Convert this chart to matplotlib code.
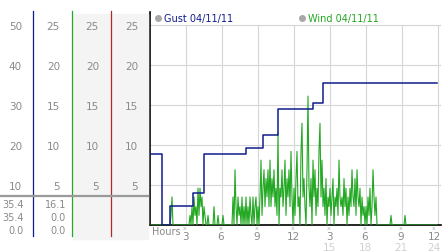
import numpy as np
import matplotlib
matplotlib.use("Agg")
import matplotlib.pyplot as plt
from matplotlib.patches import Rectangle
from matplotlib.lines import Line2D

W, H = 442, 253

# gust steps (hours, mph) - plotted on the 0-50 scale
gust_t = [0, 1.0, 1.7, 3.6, 4.5, 8.0, 9.4, 10.7, 13.6, 14.4, 23.9]
gust_v = [17.8, 0, 4.7, 7.9, 17.8, 19.2, 22.4, 28.9, 30.4, 35.4, 35.4]

# wind, one value every 5 minutes, 0h .. 23h55 (one row per hour)
wind_v = [
    0, 0, 0, 0, 0, 0, 0, 0, 0, 0, 0, 0,
    0, 0, 0, 0, 0, 0, 0, 0, 0, 1.2, 3.5, 0,
    0, 0, 0, 0, 0, 0, 0, 0, 0, 0, 0, 0,
    0, 0, 0, 0, 1.2, 0, 2.3, 0, 3.5, 1.2, 2.3, 0,
    4.6, 1.2, 4.6, 2.3, 3.5, 0, 2.3, 1.2, 0, 0, 1.2, 0,
    0, 0, 0, 0, 2.3, 0, 0, 0, 1.2, 0, 0, 0,
    0, 1.2, 0, 0, 0, 0, 0, 0, 0, 0, 0, 3.5,
    0, 6.9, 2.3, 0, 3.5, 1.2, 2.3, 0, 3.5, 0, 2.3, 0,
    3.5, 0, 2.3, 0, 3.5, 1.2, 0, 3.5, 0, 2.3, 3.5, 0,
    2.3, 0, 3.5, 8.1, 1.2, 4.6, 6.9, 2.3, 5.8, 3.5, 6.9, 2.3,
    8.1, 2.3, 5.8, 3.5, 6.9, 2.3, 4.6, 1.2, 11.5, 0, 4.6, 3.5,
    6.9, 2.3, 4.6, 8.1, 1.2, 5.8, 3.5, 6.9, 2.3, 9.2, 3.5, 0,
    4.6, 1.2, 5.8, 9.2, 2.3, 3.5, 0, 9.2, 12.7, 3.5, 5.8, 2.3,
    0, 6.9, 16.1, 4.6, 2.3, 5.8, 0, 8.1, 3.5, 6.9, 1.2, 4.6,
    2.3, 9.2, 12.7, 3.5, 8.1, 2.3, 4.6, 1.2, 5.8, 0, 3.5, 2.3,
    4.6, 1.2, 3.5, 5.8, 0, 3.5, 2.3, 4.6, 1.2, 8.1, 3.5, 2.3,
    3.5, 1.2, 5.8, 2.3, 4.6, 0, 3.5, 1.2, 4.6, 2.3, 6.9, 3.5,
    2.3, 5.8, 1.2, 6.9, 3.5, 2.3, 4.6, 0, 3.5, 1.2, 2.3, 0,
    2.3, 0, 3.5, 1.2, 4.6, 0, 2.3, 6.9, 3.5, 1.2, 3.5, 0,
    0, 0, 0, 0, 0, 0, 0, 0, 0, 0, 0, 0,
    0, 1.2, 0, 0, 0, 0, 0, 0, 0, 0, 0, 0,
    0, 0, 0, 1.2, 0, 0, 0, 0, 0, 0, 0, 0,
    0, 0, 0, 0, 0, 0, 0, 0, 0, 0, 0, 0,
    0, 0, 0, 0, 0, 0, 0, 0, 0, 0, 0, 0,
]
wind_t = np.arange(len(wind_v)) / 12.0

gust_ticks = [50, 40, 30, 20, 10]
wind_ticks = [25, 20, 15, 10, 5]
gust_stats = ["35.4", "35.4", "0.0"]
wind_stats = ["16.1", "0.0", "0.0"]
hour_ticks = [3, 6, 9, 12, 15, 18, 21, 24]
hour_lbl1 = ["3", "6", "9", "12", "3", "6", "9", "12"]
hour_lbl2 = ["", "", "", "", "15", "18", "21", "24"]

NAVY = "#101c8c"
GREEN = "#22a822"
RED = "#b02a2a"
GRAY = "#8a8a8a"

fig = plt.figure(figsize=(W / 100, H / 100), dpi=100)


def fx(x):
    return x / W


def fy(y):
    return 1 - y / H


# plot area in pixels: x 150..441, y 13..226
ax = fig.add_axes([fx(150), fy(226), fx(441) - fx(150), fy(13) - fy(226)])
ax.set_xlim(0, 24.25)
ax.set_ylim(0, 26.6)
for s in ["top", "right"]:
    ax.spines[s].set_visible(False)
ax.spines["left"].set_linewidth(1.2)
ax.spines["bottom"].set_linewidth(1.2)
ax.set_xticks([])
ax.set_yticks([])

# grid stops at the 25 line
ax.vlines(hour_ticks, 0, 25, color="#d6d6d6", linewidth=0.8, zorder=1)
ax.hlines(wind_ticks, 0, 24.25, color="#d6d6d6", linewidth=0.8, zorder=1)

ax.plot(wind_t, wind_v, color=GREEN, linewidth=0.8, zorder=3)
ax2 = ax.twinx()
ax2.set_ylim(0, 26.6 * 2)
ax2.axis("off")
ax2.step(gust_t, gust_v, where="post", color=NAVY, linewidth=1.1, zorder=4)

# y tick glyphs on the left axis
for v in wind_ticks:
    ax.plot(-0.35, v, marker="x", ms=2.2, mew=0.6, color="#aaaaaa", clip_on=False)

# legend
ax.plot(0.7, 25.8, "o", ms=4, color="#a8a8a8", clip_on=False)
ax.text(1.2, 25.8, "Gust 04/11/11", color=NAVY, fontsize=7, va="center")
ax.plot(12.7, 25.8, "o", ms=4, color="#a8a8a8", clip_on=False)
ax.text(13.2, 25.8, "Wind 04/11/11", color=GREEN, fontsize=7, va="center")

# x labels
fig.text(fx(152), fy(232), "Hours", color=GRAY, fontsize=7, va="center")
for t, a, b in zip(hour_ticks, hour_lbl1, hour_lbl2):
    x = min(150 + 12 * t - 1, 434)
    fig.text(fx(x), fy(229), "x", color="#aaaaaa", fontsize=4.5, ha="center", va="center")
    fig.text(fx(x), fy(237), a, color=GRAY, fontsize=7.5, ha="center", va="center")
    if b:
        fig.text(fx(x), fy(248), b, color="#d0d0d0", fontsize=7.5, ha="center", va="center")

# left panel
fig.patches.append(Rectangle((fx(73), fy(240)), fx(148) - fx(73), fy(15) - fy(240),
                             transform=fig.transFigure, color="#f4f4f4", zorder=0))
ypos = [27, 67, 107, 147, 187]
for i in range(5):
    y = fy(ypos[i])
    fig.text(fx(22), y, str(gust_ticks[i]), color=GRAY, fontsize=7.5, ha="right", va="center")
    fig.text(fx(60), y, str(wind_ticks[i]), color=GRAY, fontsize=7.5, ha="right", va="center")
    fig.text(fx(99), y, str(wind_ticks[i]), color=GRAY, fontsize=7.5, ha="right", va="center")
    fig.text(fx(138), y, str(wind_ticks[i]), color=GRAY, fontsize=7.5, ha="right", va="center")

for x, c in [(33, NAVY), (72, GREEN), (111, RED)]:
    fig.lines.append(Line2D([fx(x), fx(x)], [fy(12), fy(237)], transform=fig.transFigure,
                            color=c, linewidth=0.9))
fig.lines.append(Line2D([0, fx(148)], [fy(197), fy(197)], transform=fig.transFigure,
                        color="#9a9a9a", linewidth=1.6))

for i in range(3):
    y = fy(205 + 13 * i)
    fig.text(fx(24), y, gust_stats[i], color=GRAY, fontsize=7, ha="right", va="center")
    fig.text(fx(66), y, wind_stats[i], color=GRAY, fontsize=7, ha="right", va="center")

fig.savefig("out.png", dpi=100)
